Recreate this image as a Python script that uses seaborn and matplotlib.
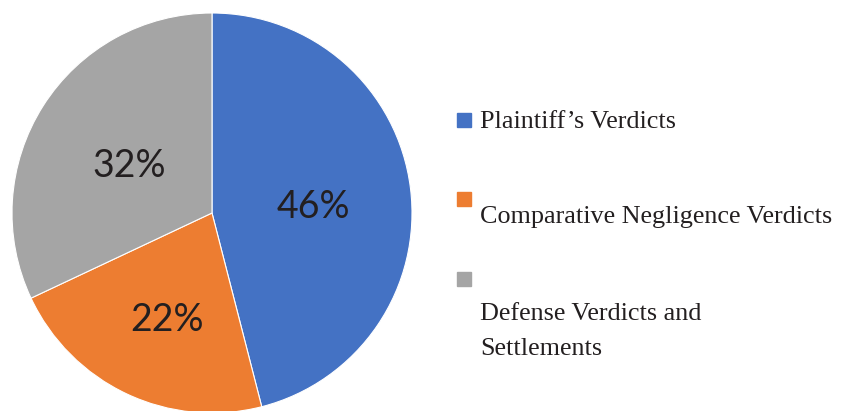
import matplotlib
matplotlib.use("Agg")
import matplotlib.pyplot as plt
import seaborn as sns
from matplotlib.patches import Rectangle

# datos del grafico
categorias = ["Plaintiff\u2019s Verdicts",
              "Comparative Negligence Verdicts",
              "Defense Verdicts and\nSettlements"]
porcentajes = [46, 22, 32]
colores = ["#4472C4", "#ED7D31", "#A5A5A5"]

sns.set_style("white")

W, H = 848, 411
fig = plt.figure(figsize=(W / 100, H / 100), dpi=100)

# ejes del pastel: centro (212, 213) px, radio 200 px
cx, cy, r = 212, 213, 200
ax = fig.add_axes([(cx - r) / W, (H - cy - r) / H, 2 * r / W, 2 * r / H])
wedges, textos, autotextos = ax.pie(
    porcentajes, colors=colores, startangle=90, counterclock=False,
    radius=1, autopct="%d%%", pctdistance=0.5,
    wedgeprops=dict(edgecolor="white", linewidth=0.8),
    textprops=dict(fontsize=27, color="#231F20", family="Lato"))
# ajuste fino de las etiquetas
factores = [1.0, 1.1, 1.0]
for t, f in zip(autotextos, factores):
    x, y = t.get_position()
    t.set_position((x * f + 0.01, y * f - 0.035))
ax.set_xlim(-1, 1)
ax.set_ylim(-1, 1)
ax.axis("off")

# leyenda manual (etiquetas debajo del cuadro en 2 y 3)
def px(x, y):
    return x / W, 1 - y / H

marcadores_y = [113, 192, 272]
texto_y = [128, 223, 320]
for color, my in zip(colores, marcadores_y):
    x0, y0 = px(457, my + 14)
    fig.patches.append(Rectangle((x0, y0), 14 / W, 14 / H, color=color,
                                 transform=fig.transFigure, figure=fig))
for cat, ty in zip(categorias, texto_y):
    for i, linea in enumerate(cat.split("\n")):
        tx, tyf = px(480, ty + 35 * i)
        fig.text(tx, tyf, linea, fontsize=18.8, family="Liberation Serif",
                 color="#231F20", va="baseline", ha="left")

fig.savefig("out.png", dpi=100, facecolor="white")
